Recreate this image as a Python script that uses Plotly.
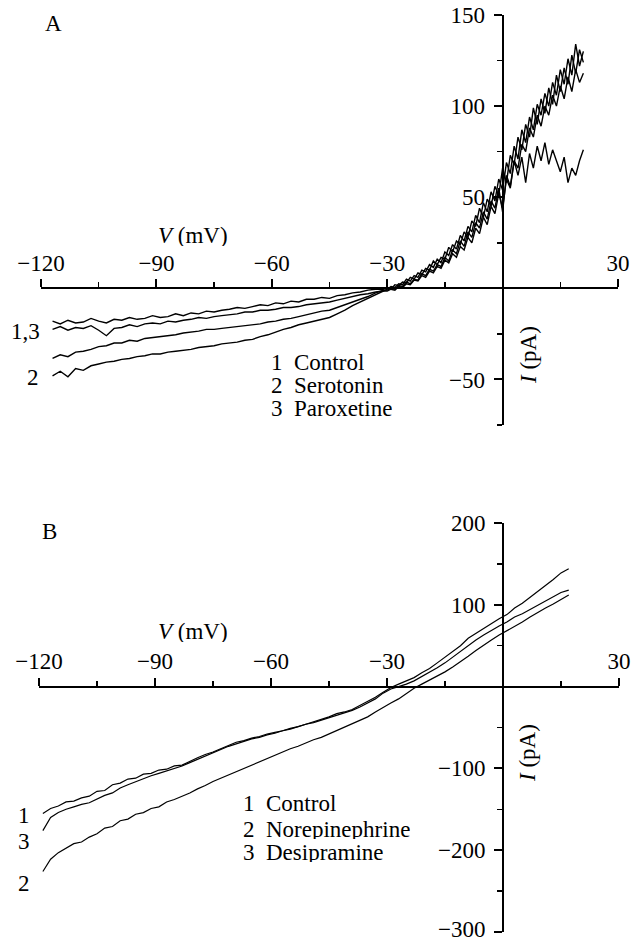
import plotly.graph_objects as go

# ---------------- data: panel A ----------------
V_A = [-117, -115, -113, -111, -109, -107, -105, -103, -101, -99,
       -97, -95, -93, -91, -89, -87, -85, -83, -81, -79,
       -77, -75, -73, -71, -69, -67, -65, -63, -61, -59,
       -57, -55, -53, -51, -49, -47, -45, -43, -41, -39,
       -37, -35, -33, -31,
       -30, -29, -28, -27, -26, -25, -24, -23, -22, -21,
       -20, -19, -18, -17, -16, -15, -14, -13, -12, -11,
       -10, -9, -8, -7, -6, -5, -4, -3, -2, -1,
       0, 1, 2, 3, 4, 5, 6, 7, 8, 9,
       10, 11, 12, 13, 14, 15, 16, 17, 18, 19,
       20, 21]

I_A_control = [-18, -19.5, -17.5, -19, -18.5, -16.5, -18, -19, -17, -17.5,
               -16, -17, -16.5, -15, -16, -15.5, -14, -15, -13.5, -14,
               -12.5, -13, -12, -11.5, -10.5, -11, -10, -9, -9.5, -8,
               -8.5, -7, -7.5, -6, -6, -5, -5.5, -4, -3.5, -2.5,
               -2, -1, -0.5, -0.5,
               0.5, -0.5, 2, 1.5, 3.5, 3, 6, 5, 8.5, 7.5,
               11, 10, 15, 13, 17, 16, 22.5, 20, 26, 24,
               31, 28, 37, 34, 44, 39, 49, 45, 56, 51,
               66, 58, 73, 68, 83, 76, 90, 83, 99, 90,
               104, 96, 110, 101, 117, 108, 121, 112, 128, 118,
               131, 124]

I_A_paroxetine = [-22.5, -21, -23, -21.5, -22, -20.5, -23, -26, -22, -21.5,
                  -20, -21, -19.5, -19, -19.5, -18, -18.5, -17.5, -17, -16,
                  -16.5, -15.5, -15, -14.5, -14, -13, -13, -12, -12, -11.5,
                  -10.5, -10.5, -10, -9, -8.5, -8, -7.5, -6.5, -5.5, -4.5,
                  -3.5, -3, -2, -1.5,
                  -0.5, 1, 0.5, 2.5, 2, 5, 4, 7, 6, 10,
                  9, 13, 11.5, 16, 14, 20, 18, 24, 21.5, 29,
                  26, 34, 31, 40, 36, 47, 42, 53, 48, 60,
                  54, 69, 63, 78, 71, 87, 80, 94, 87, 101,
                  95, 107, 100, 113, 106, 120, 112, 126, 117, 134,
                  122, 130]

I_A_serotonin_1 = [-38.5, -36.5, -37.5, -35, -34.5, -33.5, -32, -31.5, -30, -30,
                   -28.5, -29, -27.5, -27, -26.5, -26, -25.5, -24.5, -24, -23.5,
                   -22.5, -22.5, -22, -21.5, -21, -20.5, -20, -19.5, -18.5, -18,
                   -17, -16.5, -15.5, -14.5, -13.5, -12.5, -12, -10.5, -9, -7.5,
                   -6, -4.5, -2.5, -1,
                   -1, 0, -0.5, 1.5, 1, 3.5, 2.5, 5, 4.5, 8,
                   7, 10.5, 9.5, 13, 12, 17, 15, 21, 19, 26,
                   23, 31, 28, 36, 33, 42, 38, 48, 44, 55,
                   42, 62, 56, 70, 62, 72, 58, 74, 66, 78,
                   70, 80, 68, 76, 70, 64, 72, 58, 66, 62,
                   70, 76]

I_A_serotonin_2 = [-48, -45.5, -48.5, -44, -45, -42.5, -41.5, -40.5, -40, -39,
                   -38.5, -37.5, -37, -36, -36, -35, -34.5, -34, -33.5, -32.5,
                   -32, -31.5, -30.5, -30, -29.5, -28.5, -28, -26.5, -25.5, -24,
                   -22.5, -21.5, -20, -19, -18, -17, -16, -14, -12, -9.5,
                   -7.5, -5.5, -3.5, -1.5,
                   -1.5, -0.5, -1, 1, 0.5, 2.5, 2, 4.5, 4, 7,
                   6, 9.5, 8.5, 12, 11, 15.5, 14, 19, 17, 23,
                   21, 28, 25, 33, 30, 39, 35, 45, 41, 52,
                   44, 60, 55, 70, 66, 79, 75, 88, 83, 95,
                   89, 100, 95, 106, 100, 111, 104, 116, 108, 120,
                   113, 118]

# ---------------- data: panel B ----------------
V_B = [-119, -117, -115, -113, -111, -109, -107, -105, -103, -101, -99, -97, -95, -93, -91, -89, -87,
       -85, -83, -81, -79, -77, -75, -73, -71, -69, -67, -65, -63, -61, -59, -57, -55, -53, -51, -49,
       -47, -45, -43, -41, -39, -37, -35, -33, -31, -29, -27, -25, -23, -21, -19, -17, -15, -13, -11,
       -9, -7, -5, -3, -1, 1, 3, 5, 7, 9, 11, 13, 15, 17]

I_B_control = [-155, -149, -146, -141, -140, -136, -134, -128, -127, -120, -118, -113, -112, -107, -106,
               -102, -101, -97, -96, -91, -87, -83, -80, -76, -72, -68, -66, -63, -61, -58, -56, -54,
               -51, -49, -46, -43, -40, -37, -33, -31, -28, -23, -19, -13, -7, -1, 3, 7, 11, 17, 22, 29,
               36, 42, 50, 59, 65, 71, 78, 83, 88, 96, 102, 109, 116, 123, 131, 139, 144]

I_B_norepinephrine = [-226, -211, -203, -197, -192, -190, -184, -180, -173, -171, -164, -162, -156, -154,
                      -149, -147, -141, -138, -134, -130, -125, -121, -116, -112, -108, -104, -100, -96,
                      -92, -88, -84, -80, -76, -73, -69, -65, -62, -58, -54, -49, -45, -41, -37, -31,
                      -25, -20, -15, -8, -2, 3, 8, 12, 18, 24, 30, 37, 44, 51, 57, 63, 68, 74, 79, 85,
                      91, 96, 101, 106, 112]

I_B_desipramine = [-176, -160, -154, -150, -147, -144, -142, -137, -133, -130, -124, -120, -116, -112,
                   -109, -106, -103, -100, -97, -93, -89, -85, -81, -77, -73, -70, -67, -64, -62, -59,
                   -57, -54, -52, -49, -46, -44, -41, -38, -35, -32, -29, -25, -20, -15, -8, -3, 0, 3, 7,
                   12, 17, 23, 29, 36, 43, 51, 57, 63, 69, 74, 79, 85, 89, 94, 99, 105, 109, 115, 118]

for _s in (I_A_control, I_A_paroxetine, I_A_serotonin_1, I_A_serotonin_2):
    assert len(_s) == len(V_A), len(_s)
for _s in (I_B_control, I_B_norepinephrine, I_B_desipramine):
    assert len(_s) == len(V_B), len(_s)

# ---------------- axes / labels ----------------
X_RANGE = [-120, 30]
X_TICKS = [-120, -90, -60, -30, 0, 30]
X_TICKTEXT = ["\u2212120", "\u221290", "\u221260", "\u221230", "", "30"]
X_MINOR = [-105, -75, -45, -15, 15]

YA_RANGE = [-75, 150]
YA_TICKS = [-50, 0, 50, 100, 150]
YA_TICKTEXT = ["\u221250", "", "50", "100", "150"]
YA_MINOR = [-75, -25, 25, 75, 125]

YB_RANGE = [-300, 200]
YB_TICKS = [-300, -200, -100, 0, 100, 200]
YB_TICKTEXT = ["", "\u2212200", "\u2212100", "", "100", "200"]
YB_BOTTOM_LABEL = "\u2212300"
YB_MINOR = [-250, -150, -50, 50, 150]

LEGEND_A = ["Control", "Serotonin", "Paroxetine"]
LEGEND_B = ["Control", "Norepinephrine", "Desipramine"]

W, H = 632, 942
FONT = "Liberation Serif, Times New Roman, serif"
FS = 23


def px(x):
    return x / W


def py(y):
    return 1 - y / H


# domains in pixels
A_X = (41, 618)
A_Y = (15, 425)
B_X = (39, 619)
B_Y = (523, 932)

fig = go.Figure()
line_a = dict(color="black", width=1.4)
line_b = dict(color="black", width=1.2)
for ys in (I_A_control, I_A_paroxetine, I_A_serotonin_1, I_A_serotonin_2):
    fig.add_trace(go.Scatter(x=V_A, y=ys, mode="lines", line=line_a, xaxis="x", yaxis="y",
                             showlegend=False, hoverinfo="skip"))
for ys in (I_B_control, I_B_desipramine, I_B_norepinephrine):
    fig.add_trace(go.Scatter(x=V_B, y=ys, mode="lines", line=line_b, xaxis="x2", yaxis="y2",
                             showlegend=False, hoverinfo="skip"))


def xaxis(dom, ydom, yrange):
    y0, y1 = py(ydom[1]), py(ydom[0])
    frac = (0 - yrange[0]) / (yrange[1] - yrange[0])
    return dict(domain=[px(dom[0]), px(dom[1])], range=X_RANGE, anchor="free",
                position=y0 + (y1 - y0) * frac, side="top", showline=True, linewidth=2,
                linecolor="black", showgrid=False, zeroline=False, ticks="outside", ticklen=8,
                tickwidth=2, tickcolor="black", tickmode="array", tickvals=X_TICKS,
                ticktext=X_TICKTEXT, ticklabelstandoff=-1, automargin=False,
                ticklabeloverflow="allow",
                tickfont=dict(family=FONT, size=FS, color="black"),
                minor=dict(tickmode="array", tickvals=X_MINOR, ticks="outside", ticklen=5,
                           tickwidth=1.5, tickcolor="black", showgrid=False),
                fixedrange=True)


def yaxis(ydom, xdom, yrange, ticks, ticktext, minor):
    x0, x1 = px(xdom[0]), px(xdom[1])
    frac = (0 - X_RANGE[0]) / (X_RANGE[1] - X_RANGE[0])
    return dict(domain=[py(ydom[1]), py(ydom[0])], range=yrange, anchor="free",
                position=x0 + (x1 - x0) * frac, side="left", showline=True, linewidth=2,
                linecolor="black", showgrid=False, zeroline=False, ticks="outside", ticklen=8,
                tickwidth=2, tickcolor="black", tickmode="array", tickvals=ticks,
                ticktext=ticktext, ticklabelstandoff=4, automargin=False,
                ticklabeloverflow="allow",
                tickfont=dict(family=FONT, size=FS, color="black"),
                minor=dict(tickmode="array", tickvals=minor, ticks="outside", ticklen=5,
                           tickwidth=1.5, tickcolor="black", showgrid=False),
                fixedrange=True)


fig.update_layout(
    width=W, height=H, autosize=False,
    margin=dict(l=0, r=0, t=0, b=0, pad=0),
    paper_bgcolor="white", plot_bgcolor="rgba(0,0,0,0)",
    showlegend=False,
    xaxis=xaxis(A_X, A_Y, YA_RANGE),
    yaxis=yaxis(A_Y, A_X, YA_RANGE, YA_TICKS, YA_TICKTEXT, YA_MINOR),
    xaxis2=xaxis(B_X, B_Y, YB_RANGE),
    yaxis2=yaxis(B_Y, B_X, YB_RANGE, YB_TICKS, YB_TICKTEXT, YB_MINOR),
)

ann = []


def text(x, y, t, anchor="center", angle=0, size=FS, height=None):
    d = dict(x=px(x), y=py(y), xref="paper", yref="paper", text=t, showarrow=False,
             xanchor=anchor, yanchor="middle", textangle=angle, borderpad=0,
             font=dict(family=FONT, size=size, color="black"))
    if height is not None:
        d["height"] = height
    ann.append(d)


text(53, 24, "A")
text(49, 531, "B")
text(193, 235, "<i>V</i> (mV)", height=22)
text(193, 631, "<i>V</i> (mV)", height=22)
text(528, 355, "<i>I</i> (pA)", angle=-90)
text(527, 753, "<i>I</i> (pA)", angle=-90)
# bottom tick label of panel B, kept inside the page
text(486, 929, YB_BOTTOM_LABEL, anchor="right", height=20)

for i, (name, yy) in enumerate(zip(LEGEND_A, [362, 385, 408])):
    text(277, yy, str(i + 1), height=20)
    text(293, yy, name, anchor="left", height=20)
for i, (name, yy) in enumerate(zip(LEGEND_B, [803, 829, 852])):
    text(249, yy, str(i + 1), height=20)
    text(265, yy, name, anchor="left", height=20)

text(25, 331, "1,3")
text(33, 377, "2")
text(24, 815, "1")
text(24, 841, "3")
text(24, 883, "2")

fig.update_layout(annotations=ann)
fig.write_html("out.html", config={"displayModeBar": False, "staticPlot": True},
               post_script="document.body.style.margin='0';document.body.style.overflow='hidden';")
